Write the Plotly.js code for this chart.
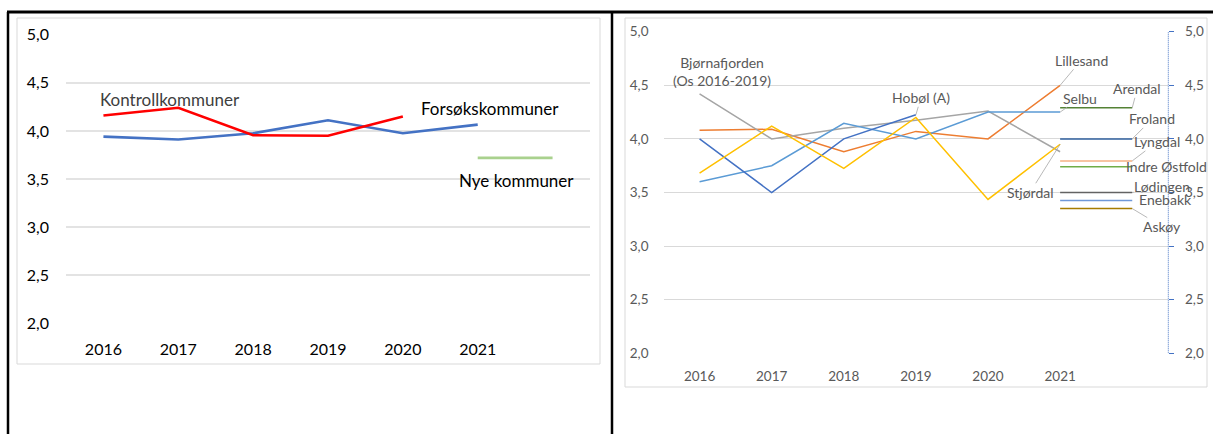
<!DOCTYPE html>
<html>
<head>
<meta charset="utf-8">
<script src="https://cdn.plot.ly/plotly-3.0.1.min.js"></script>
<style>
html,body{margin:0;padding:0;background:#fff;}
#chart{width:1213px;height:434px;}
</style>
</head>
<body>
<div id="chart"></div>
<script>
// ---------- data ----------
const years = [2016, 2017, 2018, 2019, 2020, 2021];
const yearLabels = ['2016', '2017', '2018', '2019', '2020', '2021'];
const emptySlot = 2022; // unlabeled 7th category

// left panel
const kontrollkommuner = [4.16, 4.24, 3.955, 3.95, 4.15];          // 2016-2020 (red)
const forsokskommuner = [3.94, 3.91, 3.975, 4.11, 3.975, 4.065];  // 2016-2021 (blue)
const nyeKommuner = 3.72;                                          // 2021 (green)

// right panel
const lillesand = [4.08, 4.09, 3.88, 4.07, 4.0, 4.5];
const bjornafjorden = [4.42, 4.0, 4.10, 4.175, 4.26, 3.88];
const selbu = [3.60, 3.75, 4.145, 4.0, 4.25, 4.25];
const hobol = [4.0, 3.5, 4.0, 4.225];                               // 2016-2019
const stjordal = [3.68, 4.12, 3.725, 4.2, 3.435, 3.95];
const newMunNames = ['Arendal', 'Froland', 'Lyngdal', 'Indre Østfold', 'Lødingen', 'Enebakk', 'Askøy'];
const newMunValues = [4.29, 4.0, 3.795, 3.74, 3.5, 3.425, 3.35];
const newMunColors = ['#548235', '#2F5F9E', '#F4B183', '#70AD47', '#636363', '#6F98D8', '#A67C00'];

// ---------- helpers ----------
const W = 1213, H = 434;
const fx = x => x / W;
const fy = y => 1 - y / H;
const FONT = 'Lato, "Open Sans", sans-serif';
const RCOL = '#595959';

const traces = [];
// left
traces.push({x: years, y: forsokskommuner, xaxis: 'x', yaxis: 'y', mode: 'lines', line: {color: '#4472C4', width: 2.6}, name: 'Forsøkskommuner'});
traces.push({x: years.slice(0, kontrollkommuner.length), y: kontrollkommuner, xaxis: 'x', yaxis: 'y', mode: 'lines', line: {color: '#FF0000', width: 2.6}, name: 'Kontrollkommuner'});
traces.push({x: [years[5], emptySlot], y: [nyeKommuner, nyeKommuner], xaxis: 'x', yaxis: 'y', mode: 'lines', line: {color: '#A9D18E', width: 2.6}, name: 'Nye kommuner'});

// right
const rw = 1.5;
traces.push({x: years, y: lillesand, xaxis: 'x2', yaxis: 'y2', mode: 'lines', line: {color: '#ED7D31', width: rw}, name: 'Lillesand'});
traces.push({x: years, y: bjornafjorden, xaxis: 'x2', yaxis: 'y2', mode: 'lines', line: {color: '#A5A5A5', width: rw}, name: 'Bjørnafjorden'});
traces.push({x: years, y: selbu, xaxis: 'x2', yaxis: 'y2', mode: 'lines', line: {color: '#5B9BD5', width: rw}, name: 'Selbu'});
traces.push({x: years.slice(0, hobol.length), y: hobol, xaxis: 'x2', yaxis: 'y2', mode: 'lines', line: {color: '#4472C4', width: rw}, name: 'Hobøl (A)'});
traces.push({x: years, y: stjordal, xaxis: 'x2', yaxis: 'y2', mode: 'lines', line: {color: '#FFC000', width: rw}, name: 'Stjørdal'});
newMunValues.forEach((v, i) => {
  traces.push({x: [years[5], emptySlot], y: [v, v], xaxis: 'x2', yaxis: 'y2', mode: 'lines', line: {color: newMunColors[i], width: rw}, name: newMunNames[i]});
});

// ---------- annotations ----------
const annotations = [];
const lf = (c) => ({family: FONT, size: 17, color: c});
annotations.push({xref: 'x', yref: 'y', x: years[0], y: kontrollkommuner[0], text: 'Kontrollkommuner', showarrow: false, xshift: 67, yshift: 16, font: lf('#404040')});
annotations.push({xref: 'x', yref: 'y', x: years[5], y: forsokskommuner[5], text: 'Forsøkskommuner', showarrow: false, xshift: 12, yshift: 16, font: lf('#000000')});
annotations.push({xref: 'x', yref: 'y', x: years[5], y: nyeKommuner, text: 'Nye kommuner', showarrow: false, xshift: 39, yshift: -23, font: lf('#000000')});

const rf = {family: FONT, size: 14, color: RCOL};
function leader(x, y, text, ax, ay) {
  annotations.push({xref: 'x2', yref: 'y2', x: x, y: y, text: text, showarrow: true, arrowhead: 0, arrowwidth: 0.8, arrowcolor: '#A6A6A6', standoff: 0, startstandoff: 0, ax: ax, ay: ay, font: rf, borderpad: 0});
}
function plain(x, y, text, xs, ys) {
  annotations.push({xref: 'x2', yref: 'y2', x: x, y: y, text: text, showarrow: false, xshift: xs, yshift: ys, font: rf});
}
plain(years[0], bjornafjorden[0], 'Bjørnafjorden<br>(Os 2016-2019)', 22, 22);
leader(years[3], hobol[3], 'Hobøl (A)', 5, -17);
leader(years[5], lillesand[5], 'Lillesand', 21, -25);
leader(years[5], selbu[5], 'Selbu', 20, -14);
leader(years[5], stjordal[5], 'Stjørdal', -30, 48);
leader(emptySlot, newMunValues[0], newMunNames[0], 5, -19);
leader(emptySlot, newMunValues[1], newMunNames[1], 20, -20);
leader(emptySlot, newMunValues[2], newMunNames[2], 25, -19);
plain(emptySlot, newMunValues[3], newMunNames[3], 34, 0);
leader(emptySlot, newMunValues[4], newMunNames[4], 30, -6);
plain(emptySlot, newMunValues[5], newMunNames[5], 33, 1);
leader(emptySlot, newMunValues[6], newMunNames[6], 30, 18);

// ---------- shapes ----------
const shapes = [
  // inner chart frames
  {type: 'rect', xref: 'paper', yref: 'paper', x0: fx(17), x1: fx(600), y0: fy(18), y1: fy(364), line: {color: '#D9D9D9', width: 1}},
  {type: 'rect', xref: 'paper', yref: 'paper', x0: fx(625), x1: fx(1207), y0: fy(18), y1: fy(387), line: {color: '#D9D9D9', width: 1}},
  // black table borders
  {type: 'line', xref: 'paper', yref: 'paper', x0: fx(7), x1: 1, y0: fy(12), y1: fy(12), line: {color: '#000', width: 3}},
  {type: 'line', xref: 'paper', yref: 'paper', x0: fx(8), x1: fx(8), y0: fy(12), y1: 0, line: {color: '#000', width: 2.5}},
  {type: 'line', xref: 'paper', yref: 'paper', x0: fx(612), x1: fx(612), y0: fy(12), y1: 0, line: {color: '#000', width: 2.5}},
  // dotted secondary axis line
  {type: 'line', xref: 'x2 domain', yref: 'y2', x0: 1, x1: 1, y0: 2, y1: 5, line: {color: '#4472C4', width: 1, dash: '1px,1px'}}
];

const leftX = [fx(66), fx(590)];
const rightX = [fx(663.5), fx(1168.3)];
const leftY = [fy(323.3), fy(34.7)];
const rightY = [fy(353.3), fy(31.7)];

const layout = {
  width: W, height: H, autosize: false,
  margin: {l: 0, r: 0, t: 0, b: 0, pad: 0},
  paper_bgcolor: '#fff', plot_bgcolor: 'rgba(0,0,0,0)',
  showlegend: false,
  separators: ',.',
  font: {family: FONT},
  xaxis: {domain: leftX, range: [2015.5, 2022.5], tickvals: years, ticktext: yearLabels, showgrid: false, zeroline: false, showline: false, ticks: '', tickfont: {family: FONT, size: 16, color: '#000'}, ticklabelstandoff: 15, anchor: 'y', fixedrange: true},
  yaxis: {domain: leftY, range: [2, 5], tick0: 2, dtick: 0.5, tickformat: '.1f', showgrid: true, gridcolor: '#E3E3E3', gridwidth: 1.6, zeroline: false, showline: false, ticks: '', tickfont: {family: FONT, size: 16, color: '#000'}, ticklabelstandoff: 16, anchor: 'x'},
  xaxis2: {domain: rightX, range: [2015.5, 2022.5], tickvals: years, ticktext: yearLabels, showgrid: false, zeroline: false, showline: false, ticks: '', tickfont: {family: FONT, size: 13.5, color: RCOL}, ticklabelstandoff: 13, anchor: 'y2'},
  yaxis2: {domain: rightY, range: [2, 5], tick0: 2, dtick: 0.5, tickformat: '.1f', showgrid: true, gridcolor: '#D9D9D9', gridwidth: 1, zeroline: false, showline: false, ticks: '', tickfont: {family: FONT, size: 13.5, color: RCOL}, ticklabelstandoff: 14, anchor: 'x2'},
  yaxis3: {overlaying: 'y2', side: 'right', anchor: 'x2', range: [2, 5], tick0: 2, dtick: 0.5, tickformat: '.1f', showgrid: false, zeroline: false, showline: false, ticks: 'outside', ticklen: 5, tickwidth: 1, tickcolor: '#4472C4', tickfont: {family: FONT, size: 13.5, color: RCOL}, ticklabelstandoff: 8},
  annotations: annotations,
  shapes: shapes
};

// placeholder trace that activates the right-hand axis (no visible mark)
traces.push({x: [years[0]], y: [null], xaxis: 'x2', yaxis: 'y3', mode: 'lines', hoverinfo: 'skip', showlegend: false});

Plotly.newPlot('chart', traces, layout, {staticPlot: true, displayModeBar: false});
</script>
</body>
</html>
